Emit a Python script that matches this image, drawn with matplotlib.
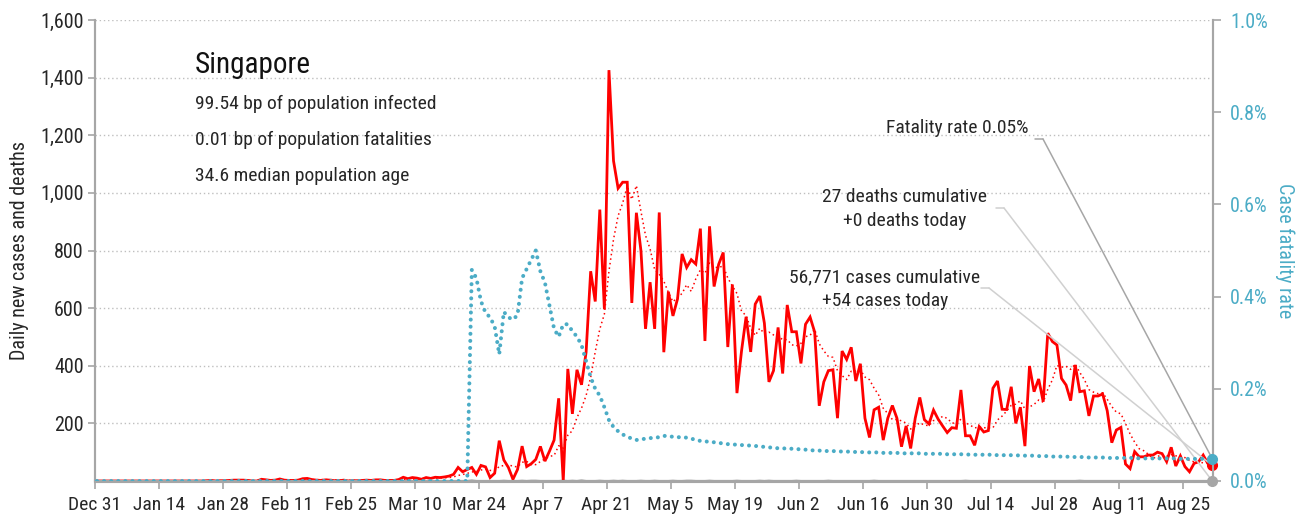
import numpy as np
import pandas as pd
import matplotlib
matplotlib.use("Agg")
import matplotlib.pyplot as plt

plt.rcParams['font.family'] = ['Roboto Condensed', 'DejaVu Sans']

# -------- data --------
start_date = '2019-12-31'

cases = [0] * 24 + [
    1, 2, 0, 1, 1, 2, 3, 3,
    3, 2, 0, 0, 6, 4, 2, 3, 7, 3, 2, 2, 3, 8, 9, 5, 3, 2, 4, 3, 1, 1, 3, 0, 1, 1, 2, 3, 2,
    4, 4, 2, 2, 2, 5, 13, 8, 12, 10, 6, 12, 9, 13, 12, 14, 17, 23,
    47, 32, 40, 47, 23, 54, 49, 12, 27, 140, 73, 47, 6,
    40, 121, 50, 60, 75, 120, 69, 104, 142, 287,
    0, 389, 233, 386, 334, 447, 728, 623, 942, 596, 1426,
    1111, 1016, 1037, 1037, 618, 931, 799, 528, 690, 528, 932,
    447, 657, 573, 632, 788, 741, 768, 753, 876, 486, 884, 675, 752, 793, 465, 682, 305,
    451, 570, 448, 614, 642, 548, 344, 383, 533, 373, 611, 518, 518, 408, 544, 569, 517,
    261, 344, 383, 386, 218, 451, 422, 464, 347, 407, 218, 151, 247, 256, 142, 218, 262,
    218, 119, 191, 113, 218, 290, 213, 198,
    246, 215, 191, 168, 185, 183, 316, 157, 157, 124, 189, 170, 175, 322, 347, 249, 248,
    327, 200, 256, 121, 399, 310, 354, 275, 513, 484, 472, 356, 333, 279,
    403, 310, 313, 226, 295, 295, 302, 244, 133, 177, 186, 59, 43, 102, 84, 84, 90, 90,
    100, 95, 67, 117, 52, 87, 50, 32, 61, 67, 90, 61, 54,
]

# case fatality rate in percent
cfr = [0.0] * 82 + [
    0.458, 0.44, 0.39, 0.365, 0.355, 0.335, 0.275, 0.367, 0.355, 0.35,
    0.36, 0.44, 0.46, 0.48, 0.50, 0.455, 0.43, 0.38, 0.33, 0.313,
    0.34, 0.34, 0.325, 0.313, 0.295, 0.26, 0.225, 0.20, 0.185, 0.16,
    0.132, 0.117, 0.108, 0.101, 0.096, 0.092, 0.089, 0.090, 0.092, 0.093,
    0.094, 0.095, 0.098, 0.097, 0.096, 0.095, 0.095, 0.094, 0.092, 0.089,
    0.087, 0.086, 0.085, 0.084, 0.083, 0.081, 0.080, 0.079, 0.079, 0.078,
    0.077, 0.077, 0.076, 0.075, 0.074, 0.073, 0.072, 0.071, 0.071, 0.070,
    0.070, 0.069, 0.069, 0.068, 0.067, 0.066, 0.066, 0.065, 0.065, 0.065,
    0.064, 0.064, 0.064, 0.063, 0.063, 0.063, 0.062, 0.062, 0.062, 0.062,
    0.061, 0.061, 0.061, 0.061, 0.060, 0.060, 0.060, 0.060, 0.060, 0.059,
    0.059, 0.059, 0.059, 0.059, 0.058, 0.058, 0.058, 0.058, 0.058, 0.057,
    0.057, 0.057, 0.057, 0.057, 0.057, 0.056, 0.056, 0.056, 0.056, 0.056,
    0.055, 0.055, 0.055, 0.055, 0.054, 0.054, 0.054, 0.053, 0.053, 0.053,
    0.053, 0.052, 0.052, 0.052, 0.052, 0.051, 0.051, 0.051, 0.051, 0.050,
    0.050, 0.050, 0.050, 0.050, 0.050, 0.050, 0.049, 0.049, 0.049, 0.049,
    0.049, 0.049, 0.049, 0.049, 0.049, 0.048, 0.048, 0.048, 0.048, 0.048,
    0.048, 0.048, 0.048,
]

death_dates = ['2020-03-22', '2020-03-29', '2020-04-02', '2020-04-04', '2020-04-05',
               '2020-04-11', '2020-04-13', '2020-04-15', '2020-04-19', '2020-04-22',
               '2020-04-24', '2020-04-28', '2020-05-01', '2020-05-05', '2020-05-08',
               '2020-05-09', '2020-05-13', '2020-05-19', '2020-05-24', '2020-05-26',
               '2020-06-01', '2020-06-08', '2020-06-18', '2020-07-08', '2020-08-02']
death_counts = [2, 1, 1, 1, 1, 1, 1, 2, 1, 1, 1, 1, 1, 1, 1, 1, 1, 1, 1, 1, 1, 1, 1, 1, 1]

title = 'Singapore'
facts = ['99.54 bp of population infected',
         '0.01 bp of population fatalities',
         '34.6 median population age']
total_cases = 56771
total_deaths = 27

# -------- prepare --------
dates = pd.date_range(start_date, periods=len(cases), freq='D')
s_cases = pd.Series(cases, index=dates, dtype=float)
s_avg = s_cases.rolling(7).mean()
s_deaths = pd.Series(0.0, index=dates)
for d, c in zip(death_dates, death_counts):
    s_deaths[pd.Timestamp(d)] += c
s_cfr = pd.Series(cfr, index=dates)

xpos = dates + pd.Timedelta(hours=12)   # points sit mid-day

RED = '#FF0000'
TEAL = '#4BACC6'
AXGRAY = '#A6A6A6'
TXT = '#262626'
FS = 14

fig = plt.figure(figsize=(13.12, 5.2), dpi=100)
ax = fig.add_axes([94.7 / 1312, 1 - 481 / 520, (1213.3 - 94.7) / 1312, (481 - 20) / 520])
ax2 = ax.twinx()

# -------- lines --------
ax.plot(xpos, s_deaths.values, color='#A0A0A0', lw=1.5, zorder=2)
ax.plot(xpos, s_avg.values, color=RED, lw=1.1, linestyle=(0, (1, 2)), zorder=3)
ax.plot(xpos, s_cases.values, color=RED, lw=2.0, zorder=4, solid_joinstyle='miter')
ax2.plot(xpos, s_cfr.values, color=TEAL, lw=2.9, linestyle=(0, (0.01, 1.75)),
         dash_capstyle='round', zorder=3)

# -------- axes --------
ax.set_ylim(0, 1600)
ax2.set_ylim(0, 1.0)
ax.set_xlim(pd.Timestamp('2019-12-31'), pd.Timestamp('2020-08-31 17:00'))

ax.set_yticks(range(200, 1601, 200))
ax.set_yticklabels([f'{v:,}' for v in range(200, 1601, 200)])
ax.yaxis.grid(True, color='#BFBFBF', linestyle=(0, (1, 2)), lw=1)
ax.set_axisbelow(True)

ax2.set_yticks(np.arange(0, 1.01, 0.2))
ax2.set_yticklabels([f'{v:.1f}%' for v in np.arange(0, 1.01, 0.2)])

tick_dates = pd.date_range(start_date, '2020-08-25', freq='14D')
ax.set_xticks(tick_dates)
ax.set_xticklabels([f'{d:%b} {d.day}' for d in tick_dates])

for a in (ax, ax2):
    a.spines['top'].set_visible(False)
    a.spines['left'].set_color(AXGRAY)
    a.spines['right'].set_color(AXGRAY)
    a.spines['bottom'].set_color(AXGRAY)
    a.spines['left'].set_linewidth(1.5)
    a.spines['right'].set_linewidth(1.5)
    a.spines['bottom'].set_linewidth(2.2)

ax.tick_params(axis='y', colors=AXGRAY, labelcolor=TXT, labelsize=14.5, length=5, width=1.2, pad=3)
ax.tick_params(axis='x', colors=AXGRAY, labelcolor=TXT, labelsize=FS, length=6, width=1.2, pad=5)
ax2.tick_params(axis='y', colors=AXGRAY, labelcolor=TEAL, labelsize=14.5, length=6, width=1.2, pad=6)

ax.set_ylabel('Daily new cases and deaths', fontsize=14.5, color=TXT, labelpad=8)
ax2.set_ylabel('Case fatality rate', fontsize=14.5, color=TEAL, rotation=-90, labelpad=19)

# -------- text block --------
fig.text(195 / 1312, 1 - 65 / 520, title, fontsize=21, color='#111111', va='center')
for i, line in enumerate(facts):
    fig.text(195 / 1312, 1 - (104 + 36 * i) / 520, line, fontsize=FS, color=TXT, va='center')

# -------- callouts --------
last = xpos[-1]
ax.plot([last], [s_deaths.iloc[-1]], 'o', color='#A6A6A6', ms=7, zorder=6, clip_on=False)
ax.plot([last], [s_cases.iloc[-1]], 'o', color=RED, ms=7, zorder=6, clip_on=False)
ax2.plot([last], [s_cfr.iloc[-1]], 'o', color=TEAL, ms=7, zorder=7, clip_on=False)

def leader(axis, xy, px, py, text_lines, color, text_x, ha):
    # text, short horizontal stub, then diagonal to the end point
    fy = 520 - py
    axis.annotate('', xy=(px + 8, fy), xycoords='figure pixels',
                  xytext=(px, fy), textcoords='figure pixels',
                  arrowprops=dict(arrowstyle='-', color=color, lw=1.1, shrinkA=0, shrinkB=0))
    axis.annotate('', xy=xy, xycoords='data',
                  xytext=(px + 8, fy), textcoords='figure pixels',
                  arrowprops=dict(arrowstyle='-', color=color, lw=1.1, shrinkA=0, shrinkB=0),
                  zorder=5)
    for j, t in enumerate(text_lines):
        fig.text(text_x / 1312, 1 - (py - 11 + 24 * j) / 520, t, fontsize=FS,
                 color=TXT, ha=ha, va='center')

leader(ax2, (last, s_cfr.iloc[-1]), 1035, 139,
       [f'Fatality rate {s_cfr.iloc[-1]:.2f}%'], '#A6A6A6', 1028, 'right')
leader(ax, (last, s_deaths.iloc[-1]), 996, 208,
       [f'{total_deaths} deaths cumulative', f'+{int(s_deaths.iloc[-1])} deaths today'],
       '#D0D0D0', 905, 'center')
leader(ax, (last, s_cases.iloc[-1]), 981, 288,
       [f'{total_cases:,} cases cumulative', f'+{int(s_cases.iloc[-1])} cases today'],
       '#D0D0D0', 885, 'center')

fig.savefig('out.png', dpi=100)
